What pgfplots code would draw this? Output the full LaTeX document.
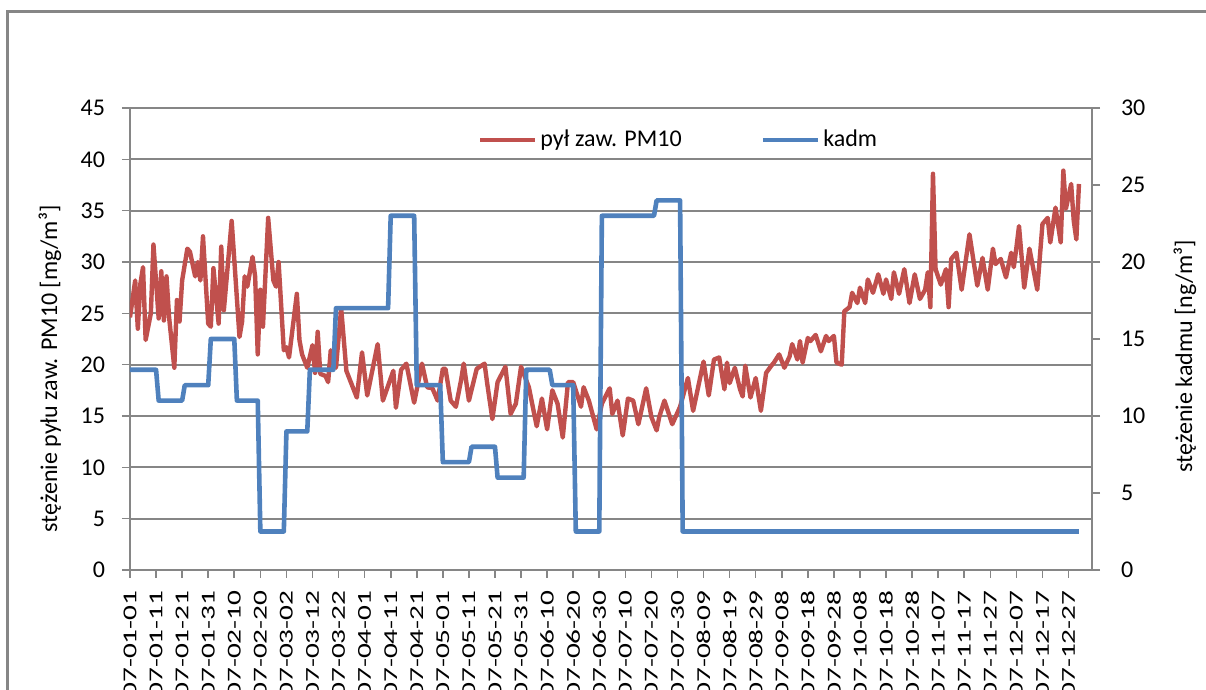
\documentclass[border=0pt]{standalone}
\usepackage{fontspec}
\setmainfont{Carlito}
\usepackage{pgfplots}
\pgfplotsset{compat=1.18}
\definecolor{pmred}{HTML}{C0504D}
\definecolor{cdblue}{HTML}{4F81BD}
\definecolor{axgray}{HTML}{868686}
\newcommand\tickfont{\fontsize{12}{14}\selectfont}
\begin{document}
\begin{tikzpicture}
\useasboundingbox (-65pt,-60pt) rectangle (538pt,285pt);
\clip (-65pt,-60pt) rectangle (538pt,285pt);
\draw[axgray, line width=1.5pt] (-61pt,-120pt) rectangle (560pt,279.2pt);
\begin{axis}[
  scale only axis, width=481pt, height=231pt,
  xmin=0, xmax=369, ymin=0, ymax=45,
  axis y line*=left, axis x line*=bottom,
  axis line style={axgray, line width=1pt},
  tick align=outside,
  major tick length=4pt,
  tick style={axgray, line width=0.8pt},
  xtick={0,10,...,360},
  xticklabels={2007-01-01,2007-01-11,2007-01-21,2007-01-31,2007-02-10,2007-02-20,2007-03-02,2007-03-12,2007-03-22,2007-04-01,2007-04-11,2007-04-21,2007-05-01,2007-05-11,2007-05-21,2007-05-31,2007-06-10,2007-06-20,2007-06-30,2007-07-10,2007-07-20,2007-07-30,2007-08-09,2007-08-19,2007-08-29,2007-09-08,2007-09-18,2007-09-28,2007-10-08,2007-10-18,2007-10-28,2007-11-07,2007-11-17,2007-11-27,2007-12-07,2007-12-17,2007-12-27},
  xticklabel shift=2pt,
  xticklabel style={rotate=90, xscale=1.22, yscale=0.82, anchor=east, font=\tickfont},
  ytick={0,5,...,45},
  ymajorgrids,
  grid style={axgray, line width=0.9pt},
  yticklabel style={font=\tickfont, xshift=-5pt},
  /pgf/number format/assume math mode=true,
  ylabel={stężenie pyłu zaw. PM10 [mg/m³]},
  ylabel style={at={(axis description cs:-0.0832,0.435)}, anchor=center, font=\tickfont},
]
\addplot[pmred, line width=2.2pt, line join=round] coordinates {
(0,24.6) (2,28.2) (3,23.5) (4,27.9) (5,29.5) (6,22.4) (8,25.0) (9,31.7) (11,24.5) (12,29.1)
(13,24.3) (14,28.6) (15,24.6) (17,19.7) (18,26.3) (19,24.2) (20,28.2) (22,31.3) (23,31.0) (25,28.6)
(26,30.0) (27,28.2) (28,32.5) (30,24.0) (31,23.7) (32,29.4) (34,24.0) (35,31.5) (36,25.3) (39,34.0)
(42,22.7) (43,24.2) (44,28.6) (45,27.6) (47,30.5) (48,28.6) (49,21.0) (50,27.3) (51,23.7) (53,34.3)
(55,28.2) (56,27.6) (57,30.0) (59,21.4) (60,21.7) (61,20.7) (64,26.9) (65,22.4) (66,21.0) (68,19.7)
(70,21.9) (71,19.2) (72,23.2) (73,19.1) (75,18.9) (76,18.3) (77,21.4) (79,19.7) (81,25.5) (83,19.4)
(87,16.8) (89,21.2) (91,17.0) (95,22.0) (97,16.5) (101,19.4) (102,15.8) (104,19.5) (106,20.1) (109,16.3)
(112,20.1) (114,17.8) (116,17.7) (118,16.5) (120,19.6) (121,19.6) (123,16.5) (125,15.9) (127,18.5) (128,20.1)
(130,16.5) (133,19.6) (136,20.1) (137,18.2) (139,14.7) (141,18.3) (144,19.8) (146,15.2) (148,16.2) (150,19.8)
(153,17.8) (156,14.0) (158,16.7) (160,13.7) (162,17.5) (164,16.2) (166,12.9) (168,18.3) (170,18.3) (173,15.9)
(174,17.8) (176,16.5) (179,13.7) (181,16.2) (184,17.7) (185,15.2) (187,16.5) (189,13.1) (191,16.7) (193,16.5)
(195,14.2) (198,17.7) (200,14.9) (202,13.6) (203,14.9) (205,16.5) (208,14.2) (211,15.9) (214,18.7) (216,15.5)
(220,20.3) (222,17.0) (224,20.5) (226,20.7) (228,17.6) (229,20.2) (230,18.2) (232,19.7) (234,17.6) (235,16.9)
(236,19.9) (238,16.8) (240,18.7) (242,15.5) (244,19.2) (246,19.9) (247,20.2) (249,21.0) (251,19.7) (253,20.8)
(254,22.0) (256,20.5) (257,22.3) (258,20.2) (260,22.6) (261,22.3) (263,22.9) (265,21.3) (267,22.8) (268,22.3)
(270,22.8) (271,20.2) (273,20.0) (274,25.2) (276,25.6) (277,27.0) (279,26.0) (280,27.5) (282,26.0) (283,28.3)
(285,27.0) (287,28.8) (289,26.9) (290,28.3) (292,26.4) (293,29.0) (295,26.9) (297,29.3) (299,26.0) (301,28.8)
(303,26.4) (305,27.3) (306,29.0) (307,25.6) (308,38.6) (309,29.3) (311,27.8) (313,29.3) (314,25.6) (315,30.3)
(317,30.9) (319,27.3) (322,32.7) (325,27.7) (327,30.4) (329,27.3) (331,31.3) (332,29.8) (334,30.3) (336,28.5)
(338,30.9) (339,29.5) (340,31.4) (341,33.5) (343,27.5) (345,31.3) (348,27.3) (350,33.7) (352,34.3) (353,31.9)
(355,35.3) (357,31.9) (358,38.9) (359,35.2) (361,37.6) (362,34.0) (363,32.2) (364,37.6)
};
\end{axis}
\begin{axis}[
  scale only axis, width=481pt, height=231pt,
  xmin=0, xmax=369, ymin=0, ymax=30,
  axis y line*=right, axis x line=none,
  axis line style={axgray, line width=1pt},
  tick align=outside,
  major tick length=4pt,
  tick style={axgray, line width=0.8pt},
  ytick={0,5,...,30},
  yticklabel style={font=\tickfont, xshift=7pt},
  /pgf/number format/assume math mode=true,
  ylabel={stężenie kadmu [ng/m³]},
  ylabel style={at={(axis description cs:1.0967,0.463)}, anchor=center, font=\tickfont},
  legend style={at={(axis description cs:0.5707,0.931)}, anchor=center, draw=none, fill=none,
    font=\tickfont, legend columns=2, /tikz/every even column/.append style={column sep=38pt},
    nodes={inner sep=1.5pt}},
  legend image code/.code={\draw[#1] (0pt,0pt) -- (27.5pt,0pt);},
]
\addlegendimage{pmred, line width=2.2pt}
\addlegendentry{pył zaw. PM10}
\addplot[cdblue, line width=2.3pt, line join=round] coordinates {
(0,13) (10,13) (11,11) (20,11) (21,12) (30,12) (31,15) (40,15) (41,11) (49,11) (50,2.5)
(59,2.5) (60,9) (68,9) (69,13) (78,13) (79,17) (99,17) (100,23) (109,23) (110,12)
(119,12) (120,7) (130,7) (131,8) (140,8) (141,6) (151,6) (152,13) (161,13) (162,12)
(170,12) (171,2.5) (180,2.5) (181,23) (201,23) (202,24) (211,24) (212,2.5) (364,2.5)
};
\addlegendentry{kadm}
\end{axis}
\end{tikzpicture}
\end{document}
